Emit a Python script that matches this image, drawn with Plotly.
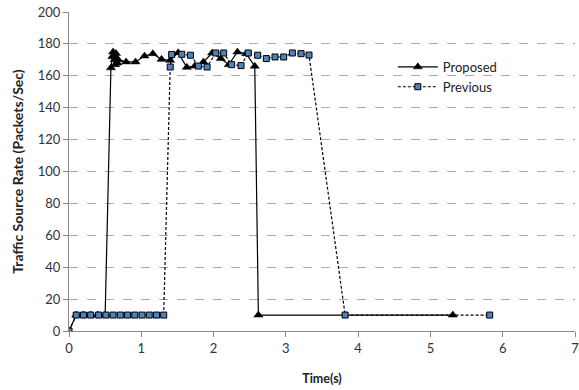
import plotly.graph_objects as go

prop_x = [0, 0.1, 0.2, 0.3, 0.4, 0.5, 0.58, 0.60, 0.61, 0.62, 0.63, 0.64, 0.65, 0.66, 0.67, 0.68,
          0.79, 0.92, 1.045, 1.16, 1.28, 1.40, 1.51, 1.63, 1.74, 1.86, 1.98, 2.10, 2.21, 2.33, 2.45, 2.57,
          2.62, 5.31]
prop_y = [0, 10, 10, 10, 10, 10, 165, 172, 175, 173, 170, 167, 174, 171, 168, 170,
          168.7, 168.7, 172.4, 173.9, 170.3, 169.7, 174.5, 165.3, 166.1, 168.7, 174.3, 170.8, 167, 174.9, 173.9, 166,
          10, 10]

prev_x = [0, 0.1, 0.2, 0.3, 0.41, 0.51, 0.61, 0.71, 0.81, 0.91, 1.01, 1.11, 1.21, 1.31,
          1.40, 1.42, 1.56, 1.68, 1.79, 1.91, 2.03, 2.14, 2.25, 2.38, 2.48, 2.61, 2.73, 2.85, 2.97,
          3.09, 3.21, 3.32, 3.82, 5.82]
prev_y = [0, 10, 10, 10, 10, 10, 10, 10, 10, 10, 10, 10, 10, 10,
          165.5, 173.4, 173.5, 172.9, 166.1, 165.5, 174.3, 174.3, 167, 166.4, 174.3, 172.9, 170.8, 171.8, 171.8,
          174.3, 173.9, 173, 10, 10]

x_ticks = [0, 1, 2, 3, 4, 5, 6, 7]
y_ticks = [0, 20, 40, 60, 80, 100, 120, 140, 160, 180, 200]

FONT = "Lato, 'Open Sans', sans-serif"

fig = go.Figure()
fig.add_trace(go.Scatter(
    x=prop_x, y=prop_y, name="Proposed", mode="lines+markers",
    line=dict(color="black", width=1.2),
    marker=dict(symbol="triangle-up", size=8, color="black", line=dict(color="black", width=0.5)),
))
fig.add_trace(go.Scatter(
    x=prev_x, y=prev_y, name="Previous", mode="lines+markers",
    line=dict(color="black", width=1.2, dash="3px,2px"),
    marker=dict(symbol="square", size=6, color="#4F81BD", line=dict(color="black", width=1)),
))

fig.update_layout(
    width=579, height=390,
    margin=dict(l=69, r=0, t=12, b=59),
    paper_bgcolor="white", plot_bgcolor="white",
    font=dict(family=FONT, size=12, color="#222"),
    showlegend=True,
    legend=dict(x=0.64, y=0.875, xanchor="left", yanchor="top",
                bgcolor="rgba(0,0,0,0)", font=dict(size=13, color="#222"),
                tracegroupgap=4, itemwidth=40),
    xaxis=dict(range=[0, 7], tickvals=x_ticks, ticks="outside", ticklen=5, tickcolor="#888",
               showline=True, linecolor="#888", linewidth=1, showgrid=False, zeroline=False,
               ticklabeloverflow="allow",
               title=dict(text="<b>Time(s)</b>", font=dict(size=12.5, color="#222"), standoff=19),
               tickfont=dict(size=13, color="#333")),
    yaxis=dict(range=[0, 200], tickvals=y_ticks, ticks="outside", ticklen=5, tickcolor="#888",
               showline=True, linecolor="#888", linewidth=1, showgrid=True, gridcolor="#aaa",
               griddash="dash", gridwidth=1, zeroline=False,
               title=dict(text="<b>Traffic Source Rate (Packets/Sec)</b>", font=dict(size=14, color="#222"), standoff=10),
               tickfont=dict(size=13, color="#333")),
)

fig.write_html("out.html")
